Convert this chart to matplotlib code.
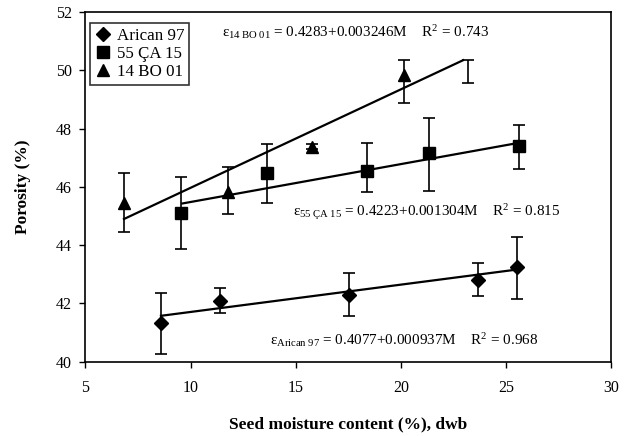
import numpy as np
import matplotlib
matplotlib.use("Agg")
import matplotlib.pyplot as plt
from matplotlib.lines import Line2D

plt.rcParams['font.family'] = ['Liberation Serif', 'DejaVu Serif']
plt.rcParams['mathtext.fontset'] = 'stix'

# ---- data ----
series_names = ["Arican 97", "55 ÇA 15", "14 BO 01"]

arican_x = [8.59, 11.40, 17.55, 23.69, 25.51]
arican_y = [41.32, 42.09, 42.29, 42.80, 43.24]
arican_lo = [40.25, 41.66, 41.57, 42.25, 42.15]
arican_hi = [42.35, 42.52, 43.03, 43.38, 44.27]

ca_x = [9.54, 13.62, 18.41, 21.34, 25.62]
ca_y = [45.11, 46.48, 46.54, 47.15, 47.40]
ca_lo = [43.87, 45.43, 45.83, 45.86, 46.61]
ca_hi = [46.35, 47.47, 47.49, 48.35, 48.12]

bo_x = [6.83, 11.79, 15.76, 20.15, 23.18]
bo_y = [45.43, 45.83, 47.38, 49.84, np.nan]   # last marker not drawn in reference
bo_lo = [44.46, 45.07, 47.30, 48.87, 49.57]
bo_hi = [46.48, 46.69, 47.46, 50.35, 50.35]

trend_intercept = [40.77, 44.18, 42.59]
trend_slope = [0.0937, 0.130, 0.3377]
trend_start = [8.59, 9.60, 6.83]
trend_end = [25.51, 25.60, 22.97]

equations = [
    r"$\mathregular{\varepsilon_{Arican\ 97}}$ = 0.4077+0.000937M    R$^{\mathregular{2}}$ = 0.968",
    r"$\mathregular{\varepsilon_{55\ ÇA\ 15}}$ = 0.4223+0.001304M    R$^{\mathregular{2}}$ = 0.815",
    r"$\mathregular{\varepsilon_{14\ BO\ 01}}$ = 0.4283+0.003246M    R$^{\mathregular{2}}$ = 0.743",
]
eq_pos = [(13.8, 40.77), (14.87, 45.15), (11.49, 51.31)]

xticks = [5, 10, 15, 20, 25, 30]
yticks = [40, 42, 44, 46, 48, 50, 52]

# ---- figure ----
fig = plt.figure(figsize=(6.3, 4.36), dpi=100)
ax = fig.add_axes([0.1357, 0.1704, 0.8341, 0.8021])

markers = ['D', 's', '^']
msizes = [7.5, 8, 8.5]
xs = [arican_x, ca_x, bo_x]
ys = [arican_y, ca_y, bo_y]
los = [arican_lo, ca_lo, bo_lo]
his = [arican_hi, ca_hi, bo_hi]

for i in range(3):
    x = np.array(xs[i]); y = np.array(ys[i])
    lo = np.array(los[i]); hi = np.array(his[i])
    center = (lo + hi) / 2.0
    ax.errorbar(x, center, yerr=(hi - lo) / 2.0, fmt='none', ecolor='black',
                elinewidth=1.2, capsize=4.2, capthick=1.2, zorder=2)
    ax.plot(x, y, linestyle='none', marker=markers[i], ms=msizes[i],
            color='black', zorder=4)
    tx = np.array([trend_start[i], trend_end[i]])
    ax.plot(tx, trend_intercept[i] + trend_slope[i] * tx, color='black',
            lw=1.6, zorder=3)

for txt, (px, py) in zip(equations, eq_pos):
    ax.text(px, py, txt, fontsize=10.9, ha='left', va='center',
            family='Liberation Serif')

ax.set_xlim(5, 30)
ax.set_ylim(40, 52)
ax.set_xticks(xticks)
ax.set_yticks(yticks)
ax.tick_params(direction='out', length=4, width=1, labelsize=11.5)
ax.tick_params(axis='x', pad=9)
ax.tick_params(axis='y', pad=6)
for s in ax.spines.values():
    s.set_linewidth(1.2)

ax.set_xlabel("Seed moisture content (%), dwb", fontsize=12.5, fontweight='bold',
              labelpad=15, family='Liberation Serif')
ax.set_ylabel("Porosity (%)", fontsize=12.5, fontweight='bold', labelpad=18,
              family='Liberation Serif')

handles = [Line2D([], [], linestyle='none', marker=markers[i], ms=msizes[i],
                  color='black') for i in range(3)]
leg = ax.legend(handles, series_names, loc='upper left',
                bbox_to_anchor=(0.008, 0.969), borderaxespad=0,
                prop={'family': 'Liberation Serif', 'size': 12.2},
                frameon=True, fancybox=False, handlelength=1.0,
                handletextpad=0.3, labelspacing=0.12, borderpad=0.3)
leg.get_frame().set_edgecolor('black')
leg.get_frame().set_linewidth(1.2)

fig.savefig("out.png", dpi=100)
